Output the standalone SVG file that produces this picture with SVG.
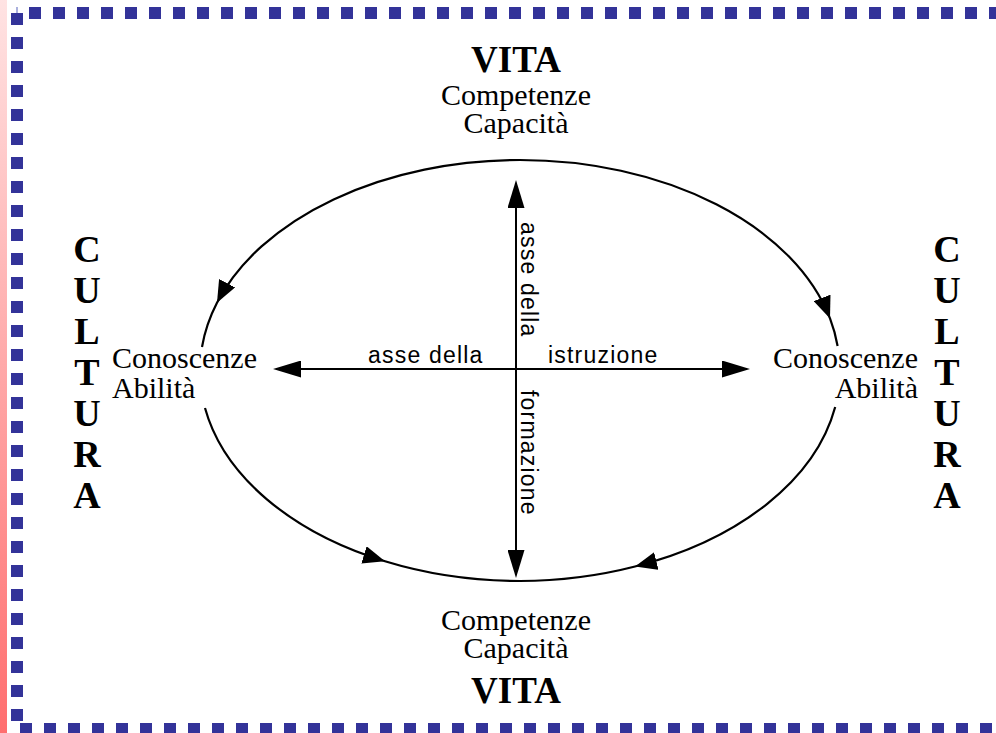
<svg xmlns="http://www.w3.org/2000/svg" width="996" height="733" viewBox="0 0 996 733">
  <style>
    .serif { font-family: "Liberation Serif", "Times New Roman", serif; fill: #000; }
    .lbl { font-size: 30px; }
    .big { font-size: 37px; font-weight: bold; }
    .cul { font-size: 38px; font-weight: bold; }
    .sans { font-family: "Liberation Sans", Arial, sans-serif; font-size: 23px; letter-spacing: 1.2px; fill: #000; }
    .arc { fill: none; stroke: #000; stroke-width: 2.2; }
    .axis { fill: none; stroke: #000; stroke-width: 2; }
  </style>
  <defs>
    <linearGradient id="strip" x1="0" y1="0" x2="0" y2="1">
      <stop offset="0" stop-color="#ffe3e3"/>
      <stop offset="1" stop-color="#ff6e6e"/>
    </linearGradient>
    <pattern id="dotsTop" patternUnits="userSpaceOnUse" x="29" y="7" width="24" height="12">
      <rect x="0" y="0" width="12" height="12" fill="#333399"/>
    </pattern>
    <pattern id="dotsBottom" patternUnits="userSpaceOnUse" x="20" y="723" width="24" height="12">
      <rect x="0" y="0" width="12" height="12" fill="#333399"/>
    </pattern>
    <pattern id="dotsLeft" patternUnits="userSpaceOnUse" x="11" y="13" width="12" height="24">
      <rect x="0" y="0" width="12" height="12" fill="#333399"/>
    </pattern>
    <marker id="arcHead" markerUnits="userSpaceOnUse" viewBox="0 0 22 18" refX="22" refY="9" markerWidth="22" markerHeight="18" orient="auto">
      <path d="M0,0 L22,9 L0,18 z" fill="#000"/>
    </marker>
    <marker id="axisHead" markerUnits="userSpaceOnUse" viewBox="0 0 28 17" refX="25" refY="8.5" markerWidth="28" markerHeight="17" orient="auto-start-reverse">
      <path d="M0,0 L28,8.5 L0,17 z" fill="#000"/>
    </marker>
  </defs>

  <rect x="0" y="0" width="996" height="733" fill="#fff"/>

  <g id="frame">
    <rect x="0" y="0" width="7" height="733" fill="url(#strip)"/>
    <rect x="16" y="7" width="2" height="6" fill="#aab0dd"/>
    <rect x="29" y="7" width="967" height="12" fill="url(#dotsTop)"/>
    <rect x="11" y="13" width="12" height="708" fill="url(#dotsLeft)"/>
    <rect x="20" y="723" width="976" height="12" fill="url(#dotsBottom)"/>
  </g>

  <g id="connectors">
    <path class="arc" d="M520,160 A320,210.5 0 0 0 217,302.8 A320,210.5 0 0 0 202,347" marker-mid="url(#arcHead)"/>
    <path class="arc" d="M520,160 A320,210.5 0 0 1 830,318.4 A320,210.5 0 0 1 837.6,346" marker-mid="url(#arcHead)"/>
    <path class="arc" d="M205,408 A320,210.5 0 0 0 385,561.3 A320,210.5 0 0 0 520,581" marker-mid="url(#arcHead)"/>
    <path class="arc" d="M835.2,407 A320,210.5 0 0 1 635,566.5 A320,210.5 0 0 1 520,581" marker-mid="url(#arcHead)"/>
    <line class="axis" x1="516" y1="183" x2="516" y2="575" marker-start="url(#axisHead)" marker-end="url(#axisHead)"/>
    <line class="axis" x1="276" y1="369" x2="747" y2="369" marker-start="url(#axisHead)" marker-end="url(#axisHead)"/>
  </g>

  <g id="axis-labels">
    <text class="sans" x="368" y="363">asse della</text>
    <text class="sans" x="548" y="363">istruzione</text>
    <text class="sans" transform="translate(521,222) rotate(90)">asse della</text>
    <text class="sans" transform="translate(521,390) rotate(90)">formazione</text>
  </g>

  <g id="vita-top">
    <text class="serif big" x="516" y="72" text-anchor="middle">VITA</text>
    <text class="serif lbl" x="516" y="105" text-anchor="middle">Competenze</text>
    <text class="serif lbl" x="516" y="133" text-anchor="middle">Capacità</text>
  </g>

  <g id="vita-bottom">
    <text class="serif lbl" x="516" y="630" text-anchor="middle">Competenze</text>
    <text class="serif lbl" x="516" y="658" text-anchor="middle">Capacità</text>
    <text class="serif big" x="516" y="703" text-anchor="middle">VITA</text>
  </g>

  <g id="conoscenze-left">
    <text class="serif lbl" x="112" y="368">Conoscenze</text>
    <text class="serif lbl" x="112" y="398">Abilità</text>
  </g>

  <g id="conoscenze-right">
    <text class="serif lbl" x="918" y="368" text-anchor="end">Conoscenze</text>
    <text class="serif lbl" x="918" y="398" text-anchor="end">Abilità</text>
  </g>

  <g id="cultura-left" class="serif cul" text-anchor="middle">
    <text x="87" y="262">C</text>
    <text x="87" y="303">U</text>
    <text x="87" y="344">L</text>
    <text x="87" y="385">T</text>
    <text x="87" y="426">U</text>
    <text x="87" y="467">R</text>
    <text x="87" y="508">A</text>
  </g>

  <g id="cultura-right" class="serif cul" text-anchor="middle">
    <text x="947" y="262">C</text>
    <text x="947" y="303">U</text>
    <text x="947" y="344">L</text>
    <text x="947" y="385">T</text>
    <text x="947" y="426">U</text>
    <text x="947" y="467">R</text>
    <text x="947" y="508">A</text>
  </g>
</svg>
